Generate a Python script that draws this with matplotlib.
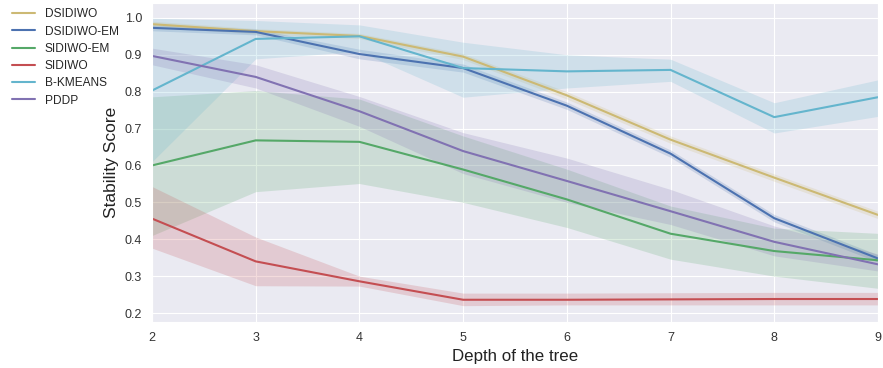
import matplotlib
matplotlib.use("Agg")
import matplotlib.pyplot as plt
import seaborn as sns

sns.set_style("darkgrid")
plt.rcParams['font.family'] = ['Liberation Sans', 'DejaVu Sans']

# Data
depth = [2, 3, 4, 5, 6, 7, 8, 9]
methods = ['DSIDIWO', 'DSIDIWO-EM', 'SIDIWO-EM', 'SIDIWO', 'B-KMEANS', 'PDDP']
colors = ['#CCB974', '#4C72B0', '#55A868', '#C44E52', '#64B5CD', '#8172B2']

dsidiwo = [0.983, 0.964, 0.951, 0.895, 0.790, 0.670, 0.567, 0.466]
dsidiwo_lo = [0.975, 0.957, 0.944, 0.887, 0.780, 0.660, 0.557, 0.456]
dsidiwo_hi = [0.991, 0.971, 0.958, 0.903, 0.800, 0.680, 0.577, 0.476]

dsidiwo_em = [0.973, 0.962, 0.902, 0.864, 0.762, 0.632, 0.457, 0.348]
dsidiwo_em_lo = [0.965, 0.954, 0.889, 0.853, 0.752, 0.622, 0.447, 0.338]
dsidiwo_em_hi = [0.981, 0.970, 0.915, 0.875, 0.772, 0.642, 0.467, 0.358]

sidiwo_em = [0.600, 0.668, 0.664, 0.589, 0.508, 0.415, 0.368, 0.343]
sidiwo_em_lo = [0.410, 0.529, 0.551, 0.500, 0.432, 0.346, 0.300, 0.267]
sidiwo_em_hi = [0.786, 0.803, 0.780, 0.680, 0.590, 0.490, 0.430, 0.416]

sidiwo = [0.456, 0.340, 0.286, 0.236, 0.236, 0.237, 0.238, 0.238]
sidiwo_lo = [0.376, 0.274, 0.273, 0.220, 0.222, 0.222, 0.222, 0.222]
sidiwo_hi = [0.543, 0.406, 0.300, 0.254, 0.254, 0.255, 0.256, 0.256]

bkmeans = [0.803, 0.943, 0.950, 0.864, 0.855, 0.859, 0.731, 0.785]
bkmeans_lo = [0.610, 0.889, 0.909, 0.785, 0.810, 0.828, 0.688, 0.733]
bkmeans_hi = [0.999, 0.993, 0.981, 0.934, 0.900, 0.888, 0.770, 0.832]

pddp = [0.897, 0.840, 0.747, 0.639, 0.558, 0.476, 0.393, 0.332]
pddp_lo = [0.873, 0.810, 0.706, 0.578, 0.500, 0.440, 0.355, 0.314]
pddp_hi = [0.918, 0.873, 0.787, 0.689, 0.620, 0.535, 0.436, 0.360]

means = [dsidiwo, dsidiwo_em, sidiwo_em, sidiwo, bkmeans, pddp]
lows = [dsidiwo_lo, dsidiwo_em_lo, sidiwo_em_lo, sidiwo_lo, bkmeans_lo, pddp_lo]
highs = [dsidiwo_hi, dsidiwo_em_hi, sidiwo_em_hi, sidiwo_hi, bkmeans_hi, pddp_hi]

fig = plt.figure(figsize=(8.83, 3.68), dpi=100)
ax = fig.add_axes([0.1721, 0.125, 0.8222, 0.867])

for name, m, lo, hi, c in zip(methods, means, lows, highs, colors):
    ax.fill_between(depth, lo, hi, color=c, alpha=0.2, linewidth=0)
    ax.plot(depth, m, color=c, linewidth=1.5, label=name)

ax.set_xlim(2, 9)
ax.set_ylim(0.1757, 1.0405)
ax.set_yticks([0.2, 0.3, 0.4, 0.5, 0.6, 0.7, 0.8, 0.9, 1.0])
ax.tick_params(labelsize=9, colors='#333333')
ax.set_xlabel('Depth of the tree', fontsize=12.2, color='#222222')
ax.set_ylabel('Stability Score', fontsize=12.5, color='#222222')

fig.legend(loc='upper left', bbox_to_anchor=(0.008, 0.992), fontsize=8.6,
           frameon=False, handlelength=1.92, handletextpad=0.8,
           labelspacing=0.44, borderpad=0.15, borderaxespad=0.3)

fig.savefig('out.png', dpi=100)
